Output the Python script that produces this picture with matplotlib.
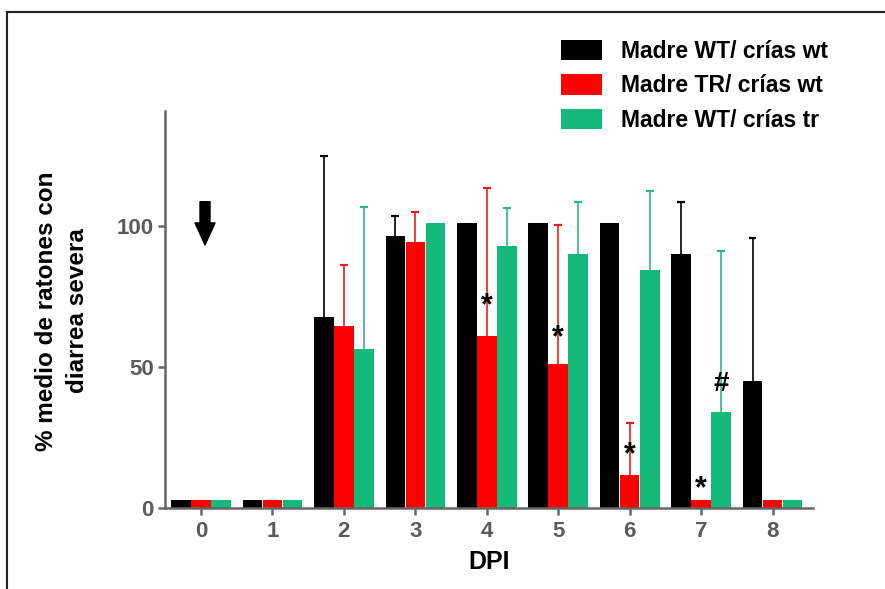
import numpy as np
import matplotlib
matplotlib.use("Agg")
import matplotlib.pyplot as plt
from matplotlib.patches import Patch
from matplotlib.lines import Line2D

plt.rcParams['font.family'] = ['Liberation Sans', 'DejaVu Sans']
plt.rcParams['font.weight'] = 'bold'

# datos: % medio de ratones con diarrea severa por día post infección
dpi_dias = [0, 1, 2, 3, 4, 5, 6, 7, 8]
series = ["Madre WT/ crías wt", "Madre TR/ crías wt", "Madre WT/ crías tr"]

wt_wt = [3, 3, 67.8, 96.5, 101, 101, 101, 89.9, 45.2]
wt_wt_err = [0, 0, 57.0, 7.0, 0, 0, 0, 18.5, 50.3]

tr_wt = [3, 3, 64.5, 94.3, 61.0, 51.0, 11.8, 3, 3]
tr_wt_err = [0, 0, 21.6, 10.7, 52.2, 49.1, 18.5, 0, 0]

wt_tr = [3, 3, 56.5, 101, 92.8, 89.9, 84.3, 34.0, 3]
wt_tr_err = [0, 0, 50.0, 0, 13.4, 18.4, 28.1, 57.2, 0]

# marcas de significancia: (día, serie, altura, símbolo)
marcas = [(4, 1, 71.5, "*"), (5, 1, 60.2, "*"), (6, 1, 18.8, "*"),
          (7, 1, 6.8, "*"), (7, 2, 44.0, "#")]

colores = ["#000000", "#ff0000", "#14b878"]
colores_err = ["#000000", "#e82020", "#2db886"]
gris = "#666666"

fig = plt.figure(figsize=(8.85, 5.89), dpi=100)
ax = fig.add_axes([165 / 885, 1 - 508.3 / 589, (813 - 165) / 885, (508.3 - 110.7) / 589])

x = np.arange(len(dpi_dias))
ancho = 0.275
desplaz = [-0.28, 0.0, 0.28]
cap = 0.055
valores = [wt_wt, tr_wt, wt_tr]
errores = [wt_wt_err, tr_wt_err, wt_tr_err]

for i in range(3):
    xs = x + desplaz[i]
    v = np.array(valores[i])
    err = np.array(errores[i])
    ax.bar(xs, v, width=ancho, color=colores[i], zorder=2)
    # solo la mitad superior de la barra de error
    m = err > 0
    ax.vlines(xs[m], v[m], v[m] + err[m], color=colores_err[i], linewidth=1.2, zorder=1)
    ax.hlines(v[m] + err[m], xs[m] - cap, xs[m] + cap, color=colores_err[i],
              linewidth=1.6, zorder=1)

for dia, s, y, simb in marcas:
    ax.text(dia + desplaz[s], y, simb, ha="center", va="center",
            fontsize=22 if simb == "*" else 20, color="black", fontweight="bold")

# flecha de inoculación
ax.annotate("", xy=(0.056, 93.2), xytext=(0.056, 108.5),
            arrowprops=dict(arrowstyle="simple,head_length=1.1,head_width=1.0,tail_width=0.5",
                            color="black", shrinkA=0, shrinkB=0, mutation_scale=14.4))

ax.set_xlim(-0.504, 8.566)
ax.set_ylim(0, 140.7)
ax.set_xticks(x)
ax.set_xticklabels([str(d) for d in dpi_dias])
ax.set_yticks([0, 50, 100])

for lado in ["top", "right"]:
    ax.spines[lado].set_visible(False)
for lado in ["left", "bottom"]:
    ax.spines[lado].set_color(gris)
    ax.spines[lado].set_linewidth(1.8)
    ax.spines[lado].set_zorder(3)

ax.tick_params(axis="both", direction="out", length=5, width=1.8, color=gris,
               labelcolor="#5a5a5a", labelsize=16)
ax.tick_params(axis="x", pad=4)
ax.tick_params(axis="y", pad=3)

ax.set_xlabel("DPI", fontsize=18, fontweight="bold", labelpad=6)
fig.text(62 / 885, 1 - 311 / 589, "% medio de ratones con\ndiarrea severa",
         rotation=90, ha="center", va="center", multialignment="center",
         fontsize=17.5, fontweight="bold", linespacing=1.42)

handles = [Patch(facecolor=c, edgecolor="none") for c in colores]
fig.legend(handles, series, loc="upper left", bbox_to_anchor=(561 / 885, 1 - 39.5 / 589),
           frameon=False, fontsize=16.5, handlelength=1.8, handleheight=1.0,
           handletextpad=0.8, labelspacing=0.5, borderpad=0, borderaxespad=0)

# marco exterior
fig.add_artist(Line2D([7 / 885, 7 / 885], [-0.05, 1 - 12 / 589], transform=fig.transFigure,
                      color="#222222", linewidth=1.5))
fig.add_artist(Line2D([7 / 885, 1.05], [1 - 12 / 589, 1 - 12 / 589], transform=fig.transFigure,
                      color="#222222", linewidth=1.5))

fig.savefig("out.png", dpi=100)
